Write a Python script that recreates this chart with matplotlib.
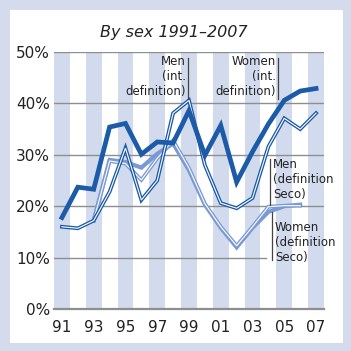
import matplotlib
matplotlib.use("Agg")
import matplotlib.pyplot as plt
from matplotlib.patches import Rectangle

years = list(range(91, 108))
tick_years = [91, 93, 95, 97, 99, 101, 103, 105, 107]
tick_labels = ["91", "93", "95", "97", "99", "01", "03", "05", "07"]

women_int = [17.8, 23.7, 23.3, 35.4, 36.1, 30.1, 32.5, 32.3, 38.6, 29.9, 35.7, 24.7, 30.6, 36.0, 40.6, 42.4, 42.9]
men_int = [16.0, 15.7, 17.2, 22.8, 31.3, 21.2, 25.0, 38.1, 40.6, 28.0, 20.6, 19.6, 21.6, 31.6, 37.1, 35.0, 38.1]
seco_years = list(range(93, 107))
women_seco = [17.2, 29.0, 28.6, 27.5, 30.2, 32.2, 27.0, 20.3, 15.8, 12.0, 15.8, 18.9, 20.0, 20.3]
men_seco = [17.2, 28.8, 28.3, 25.1, 29.3, 32.8, 27.4, 20.5, 16.0, 12.3, 16.0, 19.9, 20.1, 20.1]

dark = "#1b5ba8"
light = "#7b9ad4"
stripe = "#d2dbee"
bg = "#d3dbed"
grid = "#8e8e8e"

fig = plt.figure(figsize=(3.51, 3.51), dpi=100)
fig.patch.set_facecolor(bg)
bgax = fig.add_axes([0, 0, 1, 1], zorder=-10)
bgax.set_axis_off()
bgax.set_xlim(0, 351)
bgax.set_ylim(351, 0)
bgax.add_patch(Rectangle((10, 10), 333, 333, facecolor="white", edgecolor="none"))

ax = fig.add_axes([54/351, 42/351, 270/351, 257/351])
ax.set_facecolor("none")
ax.set_xlim(90.5, 107.5)
ax.set_ylim(0, 50)

for y in years:
    if y % 2 == 1:
        ax.axvspan(y - 0.5, y + 0.5, color=stripe, lw=0, zorder=0)

for v in [20, 30, 40, 50]:
    ax.axhline(v, color=grid, lw=1.0, zorder=1)
ax.axhline(10, xmin=0, xmax=(266-54)/270, color=grid, lw=1.0, zorder=1)
ax.axhline(0, color=grid, lw=1.6, zorder=1, clip_on=False)

# lines
ax.plot(seco_years, women_seco, color=light, lw=3.0, solid_joinstyle="miter", zorder=2)
ax.plot(seco_years, men_seco, color=light, lw=2.7, solid_joinstyle="miter", zorder=3)
ax.plot(seco_years, men_seco, color="white", lw=0.8, solid_joinstyle="miter", zorder=3.1)
ax.plot(years, men_int, color=dark, lw=2.7, solid_joinstyle="miter", zorder=4)
ax.plot(years, men_int, color="white", lw=0.8, solid_joinstyle="miter", zorder=4.1)
ax.plot(years, women_int, color=dark, lw=3.4, solid_joinstyle="miter", zorder=5)

for s in ax.spines.values():
    s.set_visible(False)
ax.set_xticks(tick_years)
ax.set_xticklabels(tick_labels)
ax.set_yticks([0, 10, 20, 30, 40, 50])
ax.set_yticklabels(["0%", "10%", "20%", "30%", "40%", "50%"])
ax.tick_params(length=0, labelsize=11, colors="#222222", pad=3)
ax.tick_params(axis="x", pad=8)

fs = 8.5
ls = 1.2
tc = "#222222"
lc = "#444444"
# Men (int. definition)
ax.plot([98.95, 98.95], [48.8, 40.8], color=lc, lw=0.9, zorder=6)
ax.text(98.8, 49.5, "Men\n(int.\ndefinition)", ha="right", va="top", fontsize=fs,
        multialignment="right", linespacing=ls, color=tc, zorder=6)
# Women (int. definition)
ax.plot([104.6, 104.6], [48.8, 40.8], color=lc, lw=0.9, zorder=6)
ax.text(104.45, 49.5, "Women\n(int.\ndefinition)", ha="right", va="top", fontsize=fs,
        multialignment="right", linespacing=ls, color=tc, zorder=6)
# Men (definition Seco)
ax.plot([104.1, 104.1], [29.2, 20.2], color=lc, lw=0.9, zorder=6)
ax.text(104.3, 29.4, "Men\n(definition\nSeco)", ha="left", va="top", fontsize=fs,
        multialignment="left", linespacing=ls, color=tc, zorder=6)
# Women (definition Seco)
ax.plot([104.2, 104.2], [18.9, 9.5], color=lc, lw=0.9, zorder=6)
ax.text(104.4, 17.2, "Women\n(definition\nSeco)", ha="left", va="top", fontsize=fs,
        multialignment="left", linespacing=ls, color=tc, zorder=6)

fig.text(174/351, 1 - 32/351, "By sex 1991\u20132007", ha="center", va="center",
         fontsize=11.5, style="italic", color=tc)

fig.savefig("out.png", dpi=100, facecolor=bg)
